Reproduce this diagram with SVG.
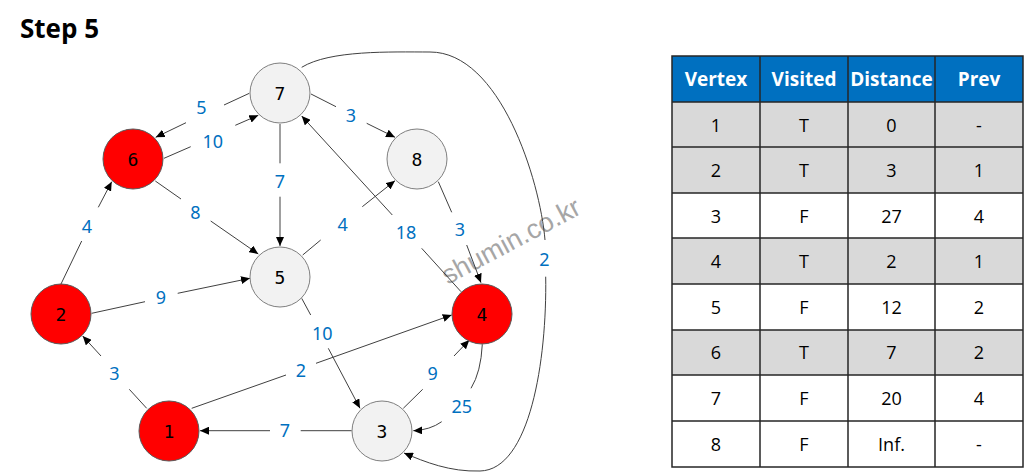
<svg xmlns="http://www.w3.org/2000/svg" width="1024" height="473" viewBox="0 0 1024 473">
<style>
.edge{fill:none;stroke:#404040;stroke-width:1}
.nodeR{fill:#FF0000;stroke:#595959;stroke-width:1}
.nodeG{fill:#F2F2F2;stroke:#7F7F7F;stroke-width:1}
.nt{font-family:"DejaVu Sans Mono","Noto Sans",sans-serif;font-size:18px;fill:#000;text-anchor:middle;dominant-baseline:central}
.lbl{font-family:"Noto Sans","DejaVu Sans",sans-serif;font-size:18px;fill:#0070C0;text-anchor:middle;dominant-baseline:central}
.hd{font-family:"Open Sans","Noto Sans",sans-serif;font-weight:bold;font-size:19px;fill:#fff;text-anchor:middle;dominant-baseline:central}
.cell{font-family:"Open Sans","Noto Sans",sans-serif;font-size:18px;fill:#000;text-anchor:middle;dominant-baseline:central}
.grid{stroke:#262626;stroke-width:1.5;fill:none}
</style>
<defs>
<marker id="arr" markerUnits="userSpaceOnUse" markerWidth="10" markerHeight="8" refX="9" refY="4" orient="auto">
<path d="M0,0 L9,4 L0,8 Z" fill="#000"/>
</marker>
</defs>
<rect width="1024" height="473" fill="#fff"/>
<text x="20" y="38" font-family="'Open Sans','Noto Sans',sans-serif" font-weight="bold" font-size="26" fill="#000">Step 5</text>

<text x="511" y="241" transform="rotate(-28 511 241)" font-family="'Liberation Sans',Arial,sans-serif" font-size="27" fill="#A6A6A6" text-anchor="middle" dominant-baseline="central">shumin.co.kr</text>

<g id="connectors">
<path class="edge" marker-end="url(#arr)" d="M249.3,93.3 L224,105 M186,122.7 L155.7,137.3"/>
<path class="edge" marker-end="url(#arr)" d="M164,158.3 L190.7,146.7 M235.3,125.3 L258.3,115.3"/>
<path class="edge" marker-end="url(#arr)" d="M280,124 L280,163.3 M280,196.7 L280,246"/>
<path class="edge" marker-end="url(#arr)" d="M155.3,181 L181,199 M210.7,221 L258.3,254"/>
<path class="edge" marker-end="url(#arr)" d="M61,284 L81.7,241 M98.3,207.3 L111.7,181.7"/>
<path class="edge" marker-end="url(#arr)" d="M311,94 L336,106.7 M366.7,123.3 L395,137.3"/>
<path class="edge" marker-end="url(#arr)" d="M302.7,255 L320.7,240 M362.3,206.7 L395,180.7"/>
<path class="edge" marker-end="url(#arr)" d="M461,291.7 L421.7,248.3 M392.3,215 L301.7,116"/>
<path class="edge" marker-end="url(#arr)" d="M438.3,181.7 L451.7,212.3 M466.7,245 L481,282.7"/>
<path class="edge" marker-end="url(#arr)" d="M301.7,67.3 C330,50 390,52 430,52 C500,52 540,180 545,240 M545.7,276.7 C547,360 530,470 480,471 C450,472 425,462 404,453"/>
<path class="edge" marker-end="url(#arr)" d="M91.7,313.3 L145,301.7 M177.7,293.3 L250,278.3"/>
<path class="edge" marker-end="url(#arr)" d="M146.7,408.3 L129.3,389.3 M101,356 L82.7,336"/>
<path class="edge" marker-end="url(#arr)" d="M191.7,408.3 L286,375 M316,363.3 L451.7,315"/>
<path class="edge" marker-end="url(#arr)" d="M351.7,430.7 L300.7,430.7 M270,430.7 L200,430.7"/>
<path class="edge" marker-end="url(#arr)" d="M301.7,298.3 L310.7,315 M328.3,348.3 L360,408.3"/>
<path class="edge" marker-end="url(#arr)" d="M403.3,408.3 L422.7,389.3 M454,356 L469.3,340"/>
<path class="edge" marker-end="url(#arr)" d="M482.3,344.3 Q481,372 471,388.3 M441.7,421.7 Q430,430 413.3,430.7"/>

<text class="lbl" x="201.3" y="107.3">5</text>
<text class="lbl" x="212.7" y="140.7">10</text>
<text class="lbl" x="280" y="180.7">7</text>
<text class="lbl" x="195.3" y="212.3">8</text>
<text class="lbl" x="87" y="225.7">4</text>
<text class="lbl" x="351" y="115">3</text>
<text class="lbl" x="342.7" y="224.3">4</text>
<text class="lbl" x="406" y="231.7">18</text>
<text class="lbl" x="460" y="229">3</text>
<text class="lbl" x="544.3" y="259">2</text>
<text class="lbl" x="161" y="297.3">9</text>
<text class="lbl" x="114.3" y="373.3">3</text>
<text class="lbl" x="301" y="370">2</text>
<text class="lbl" x="285" y="430">7</text>
<text class="lbl" x="322.3" y="332.7">10</text>
<text class="lbl" x="432.7" y="373.3">9</text>
<text class="lbl" x="461.7" y="405.7">25</text>
</g>

<g id="node7"><circle class="nodeG" cx="280" cy="93" r="30"/><text class="nt" x="280" y="93">7</text></g>
<g id="node6"><circle class="nodeR" cx="133" cy="159" r="30"/><text class="nt" x="133" y="159">6</text></g>
<g id="node8"><circle class="nodeG" cx="417" cy="159" r="30"/><text class="nt" x="417" y="159">8</text></g>
<g id="node5"><circle class="nodeG" cx="280" cy="277" r="30"/><text class="nt" x="280" y="277">5</text></g>
<g id="node2"><circle class="nodeR" cx="61" cy="314" r="30"/><text class="nt" x="61" y="314">2</text></g>
<g id="node4"><circle class="nodeR" cx="482" cy="314" r="30"/><text class="nt" x="482" y="314">4</text></g>
<g id="node1"><circle class="nodeR" cx="169" cy="431" r="30"/><text class="nt" x="169" y="431">1</text></g>
<g id="node3"><circle class="nodeG" cx="382" cy="431" r="30"/><text class="nt" x="382" y="431">3</text></g>

<g id="table">
<rect x="672" y="56" width="351" height="46" fill="#0070C0"/>
<rect x="672" y="102" width="351" height="91" fill="#D9D9D9"/>
<rect x="672" y="238" width="351" height="46" fill="#D9D9D9"/>
<rect x="672" y="330" width="351" height="45" fill="#D9D9D9"/>
<rect class="grid" x="672" y="56" width="351" height="411"/>
<path class="grid" d="M760,56 V467 M848,56 V467 M935,56 V467 M672,102 H1023 M672,147 H1023 M672,193 H1023 M672,238 H1023 M672,284 H1023 M672,330 H1023 M672,375 H1023 M672,421 H1023"/>
<text class="hd" x="716" y="79">Vertex</text>
<text class="hd" x="804" y="79">Visited</text>
<text class="hd" x="891.5" y="79">Distance</text>
<text class="hd" x="979" y="79">Prev</text>

<text class="cell" x="716" y="125">1</text><text class="cell" x="804" y="125">T</text><text class="cell" x="891.5" y="125">0</text><text class="cell" x="979" y="125">-</text>
<text class="cell" x="716" y="170">2</text><text class="cell" x="804" y="170">T</text><text class="cell" x="891.5" y="170">3</text><text class="cell" x="979" y="170">1</text>
<text class="cell" x="716" y="216">3</text><text class="cell" x="804" y="216">F</text><text class="cell" x="891.5" y="216">27</text><text class="cell" x="979" y="216">4</text>
<text class="cell" x="716" y="261">4</text><text class="cell" x="804" y="261">T</text><text class="cell" x="891.5" y="261">2</text><text class="cell" x="979" y="261">1</text>
<text class="cell" x="716" y="307">5</text><text class="cell" x="804" y="307">F</text><text class="cell" x="891.5" y="307">12</text><text class="cell" x="979" y="307">2</text>
<text class="cell" x="716" y="352">6</text><text class="cell" x="804" y="352">T</text><text class="cell" x="891.5" y="352">7</text><text class="cell" x="979" y="352">2</text>
<text class="cell" x="716" y="398">7</text><text class="cell" x="804" y="398">F</text><text class="cell" x="891.5" y="398">20</text><text class="cell" x="979" y="398">4</text>
<text class="cell" x="716" y="444">8</text><text class="cell" x="804" y="444">F</text><text class="cell" x="891.5" y="444">Inf.</text><text class="cell" x="979" y="444">-</text>
</g>
</svg>
